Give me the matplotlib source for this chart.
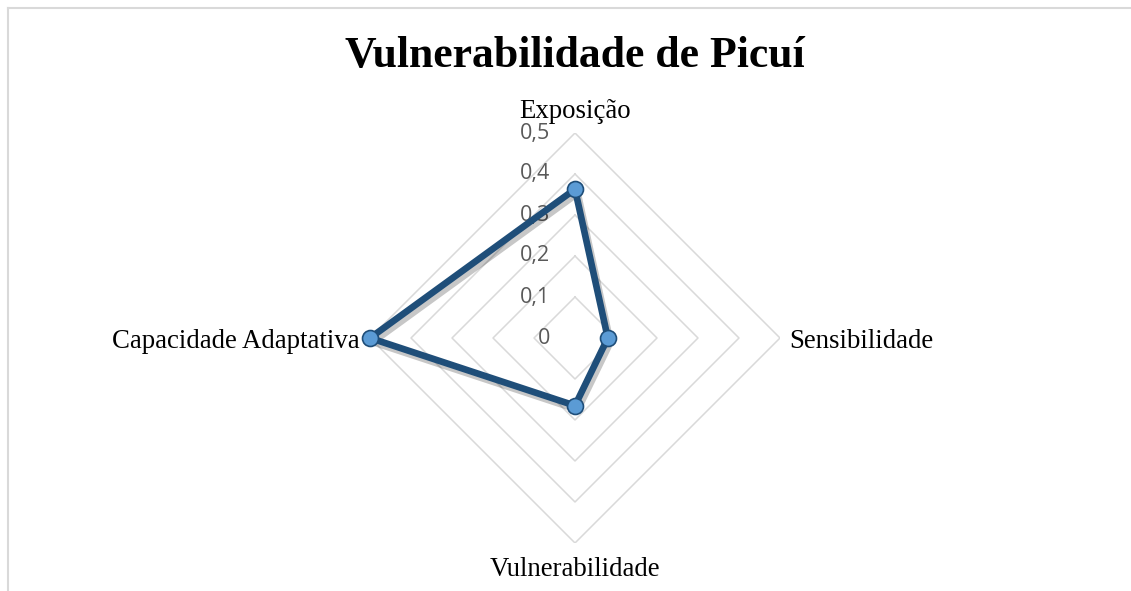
import matplotlib
matplotlib.use("Agg")
import matplotlib.pyplot as plt
import matplotlib.patheffects as pe
from matplotlib.lines import Line2D
import numpy as np

# data
categories = ["Exposição", "Sensibilidade", "Vulnerabilidade", "Capacidade Adaptativa"]
values = [0.363, 0.08, 0.165, 0.50]
ring_values = [0.1, 0.2, 0.3, 0.4, 0.5]
tick_labels = ["0", "0,1", "0,2", "0,3", "0,4", "0,5"]
title = "Vulnerabilidade de Picuí"

W, H = 1131, 591
fig = plt.figure(figsize=(W / 100, H / 100), dpi=100)
fig.patch.set_facecolor("white")

# centre of the radar and radius of the 0.5 ring, in pixels
cx, cy, rad = 575, 338, 205
ax = fig.add_axes([(cx - rad) / W, (H - cy - rad) / H, 2 * rad / W, 2 * rad / H],
                  projection="polar")
ax.set_theta_offset(np.pi / 2)
ax.set_theta_direction(-1)
ax.set_ylim(0, 0.5)
ax.grid(False)
ax.spines["polar"].set_visible(False)
ax.set_xticks([])
ax.set_yticks([])
ax.patch.set_alpha(0)

n = len(categories)
angles = np.arange(n) * 2 * np.pi / n
closed = np.append(angles, angles[0])

# diamond grid rings
for r in ring_values:
    ax.plot(closed, [r] * (n + 1), color="#D9D9D9", lw=1.1, zorder=1)

# radial tick labels along the top axis
for i, lab in enumerate(tick_labels):
    r = i * 0.1
    ax.annotate(lab, xy=(0, r), xytext=(-25, 0), textcoords="offset pixels",
                ha="right", va="center", fontsize=15.5, color="#595959",
                family="Open Sans", zorder=2)

# category labels (baseline offsets in pixels from the 0.5 vertex)
offsets = [((0, 15), "center"),
           ((9, -10), "left"),
           ((0, -33), "center"),
           ((-10, -10), "right")]
for ang, lab, (off, ha) in zip(angles, categories, offsets):
    ax.annotate(lab, xy=(ang, 0.5), xytext=off, textcoords="offset pixels",
                ha=ha, va="baseline", fontsize=19.3, family="Liberation Serif",
                color="black", annotation_clip=False)

vals = values + [values[0]]
ax.plot(closed, vals, color="#1F4E79", lw=4.8, solid_joinstyle="round",
        zorder=5, clip_on=False,
        path_effects=[pe.SimpleLineShadow(offset=(2, -3), alpha=0.22, shadow_color="black"),
                      pe.Normal()])
ax.plot(angles, values, ls="none", marker="o", ms=11.5, mfc="#5B9BD5",
        mec="#1F4E79", mew=1.2, zorder=6, clip_on=False)

fig.text(cx / W, 1 - 67 / H, title, ha="center", va="baseline", fontsize=31.5,
         fontweight="bold", family="Liberation Serif")

# chart area border (top and left edges visible)
fig.add_artist(Line2D([8 / W, 1], [1 - 8 / H, 1 - 8 / H], color="#D9D9D9", lw=1.5))
fig.add_artist(Line2D([8 / W, 8 / W], [0, 1 - 8 / H], color="#D9D9D9", lw=1.5))

fig.savefig("out.png", dpi=100)
